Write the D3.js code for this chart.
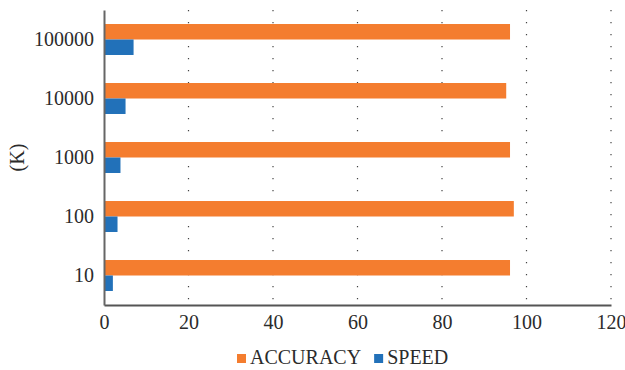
<!DOCTYPE html>
<html>
<head>
<meta charset="utf-8">
<script src="https://cdn.jsdelivr.net/npm/d3@7"></script>
<style>
  body { margin: 0; background: #fff; }
  text { font-family: "Liberation Serif", "Times New Roman", serif; fill: #2b2b2b; }
</style>
</head>
<body>
<div class="chart"></div>
<script>
// data
const categories = ["10", "100", "1000", "10000", "100000"];
const accuracy = [96.1, 97.0, 96.1, 95.2, 96.1];
const speed = [2.1, 3.2, 3.9, 5.1, 7.0];
const seriesNames = ["ACCURACY", "SPEED"];
const xTicks = [0, 20, 40, 60, 80, 100, 120];

// setup chart
const width = 625;
const height = 370;
const margin = { top: 10, right: 14, bottom: 65, left: 104 };
const colors = ["#f47d2f", "#2271b9"];

const svg = d3.select(".chart")
   .append("svg")
   .attr("width", width)
   .attr("height", height);

const rows = categories.map((c, i) => ({ cat: c, values: [accuracy[i], speed[i]] }));

const x = d3.scaleLinear()
   .domain([0, 120])
   .range([margin.left, width - margin.right]);

const y = d3.scaleBand()
   .domain(categories.slice().reverse())
   .range([margin.top, height - margin.bottom])
   .paddingInner(0.475)
   .paddingOuter(0.2375);

const ySub = d3.scaleBand()
   .domain([0, 1])
   .range([0, y.bandwidth()]);

// dotted gridlines
svg.append("g")
   .selectAll("line")
   .data(xTicks.slice(1))
   .join("line")
   .attr("x1", d => x(d))
   .attr("x2", d => x(d))
   .attr("y1", margin.top)
   .attr("y2", height - margin.bottom)
   .attr("stroke", "#444")
   .attr("stroke-width", 1.2)
   .attr("stroke-dasharray", "1.2,10.8");

// bars
svg.append("g")
   .selectAll("g")
   .data(rows)
   .join("g")
   .attr("transform", d => `translate(0,${y(d.cat)})`)
   .selectAll("rect")
   .data(d => d.values)
   .join("rect")
   .attr("x", x(0))
   .attr("y", (d, i) => ySub(i))
   .attr("height", ySub.bandwidth())
   .attr("width", d => x(d) - x(0))
   .attr("fill", (d, i) => colors[i]);

// x axis
const xAxis = svg.append("g")
   .attr("transform", `translate(0,${height - margin.bottom})`)
   .call(d3.axisBottom(x).tickValues(xTicks).tickSize(0).tickPadding(10));
xAxis.select(".domain").attr("stroke", "#555").attr("stroke-width", 2);
xAxis.selectAll("text").attr("font-size", 20).attr("fill", "#2b2b2b")
   .style("font-family", "Liberation Serif, serif");

// y axis
const yAxis = svg.append("g")
   .attr("transform", `translate(${margin.left},0)`)
   .call(d3.axisLeft(y).tickSize(0).tickPadding(10));
yAxis.select(".domain").attr("stroke", "#666").attr("stroke-width", 2);
yAxis.selectAll("text").attr("font-size", 20).attr("fill", "#2b2b2b")
   .style("font-family", "Liberation Serif, serif");

// y title
svg.append("text")
   .attr("transform", `translate(24,${(margin.top + height - margin.bottom) / 2}) rotate(-90)`)
   .attr("text-anchor", "middle")
   .attr("font-size", 20)
   .text("(K)");

// legend
const legend = svg.append("g").attr("transform", "translate(237,364)");
let offset = 0;
seriesNames.forEach((name, i) => {
   const g = legend.append("g").attr("transform", `translate(${offset},0)`);
   g.append("rect")
      .attr("x", 0)
      .attr("y", -10)
      .attr("width", 9)
      .attr("height", 9)
      .attr("fill", colors[i]);
   const t = g.append("text")
      .attr("x", 13)
      .attr("font-size", 20)
      .text(name);
   offset += 13 + t.node().getComputedTextLength() + 13;
});
</script>
</body>
</html>
